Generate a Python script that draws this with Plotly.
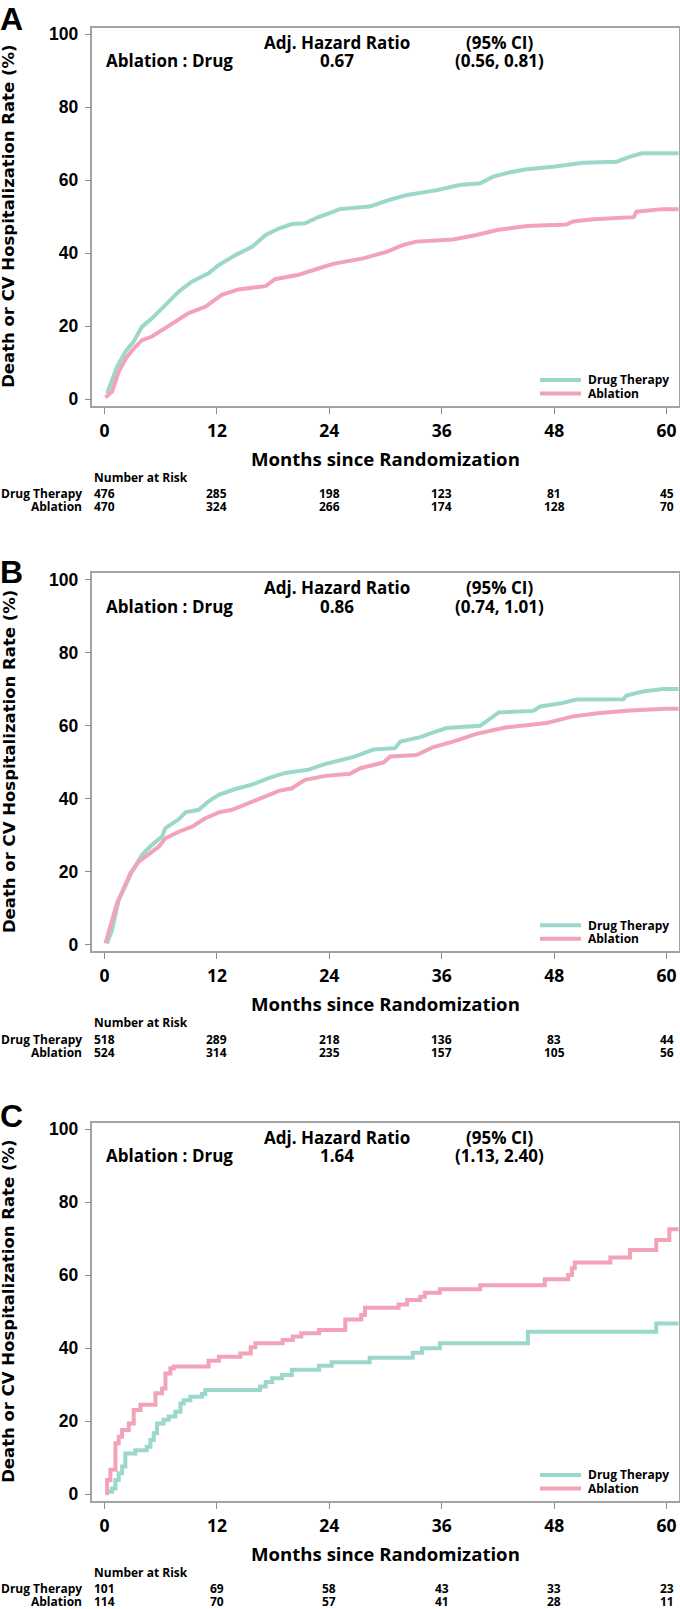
import plotly.graph_objects as go

W, H = 680, 1609

tick_months = [0, 12, 24, 36, 48, 60]
y_ticks = [0, 20, 40, 60, 80, 100]
group_names = ["Drug Therapy", "Ablation"]
panel_letters = ["A", "B", "C"]

# panel A
a_drug_month = [0.27, 1.33, 2.22, 3.1, 4.0, 5.07, 6.14, 7.92, 9.3, 11.1, 12.2, 13.97, 15.75, 17.2,
                18.6, 20.0, 21.4, 22.9, 24.1, 25.1, 28.3, 30.1, 32.3, 35.5, 37.9, 40.1, 41.5, 43.3,
                45.1, 47.9, 51.1, 54.7, 56.1, 57.4, 61.3]
a_drug_rate = [1.6, 8.9, 13.0, 15.8, 19.9, 22.2, 24.9, 29.5, 32.2, 34.5, 36.8, 39.5, 41.8, 45.0,
               46.8, 48.0, 48.2, 50.0, 51.1, 52.1, 52.8, 54.4, 56.0, 57.3, 58.7, 59.2, 61.0, 62.2,
               63.0, 63.7, 64.8, 65.1, 66.5, 67.4, 67.4]
a_abl_month = [0.09, 0.8, 1.51, 2.4, 3.29, 4.0, 5.07, 6.14, 7.56, 8.99, 10.8, 12.5, 14.3, 17.2,
               18.2, 20.7, 22.9, 24.4, 27.6, 30.1, 31.9, 33.3, 37.2, 39.7, 41.9, 45.1, 49.3, 50.0,
               52.2, 56.5, 56.8, 59.5, 61.3]
a_abl_rate = [0.5, 2.1, 7.6, 11.7, 14.4, 16.2, 17.2, 19.0, 21.3, 23.6, 25.4, 28.6, 30.1, 31.0,
              32.9, 34.1, 35.9, 37.1, 38.6, 40.4, 42.3, 43.2, 43.8, 45.0, 46.4, 47.5, 47.9, 48.7,
              49.3, 49.9, 51.4, 52.1, 52.1]
a_risk_drug = [476, 285, 198, 123, 81, 45]
a_risk_abl = [470, 324, 266, 174, 128, 70]
a_hr = "0.67"
a_ci = "(0.56, 0.81)"

# panel B
b_drug_month = [0.27, 0.8, 1.51, 2.22, 2.94, 4.0, 5.07, 6.14, 6.5, 7.92, 8.63, 10.05, 11.1, 12.2,
                13.97, 15.75, 17.5, 19.3, 21.8, 23.6, 26.6, 28.7, 31.0, 31.6, 33.7, 35.1, 36.5,
                40.1, 41.2, 42.1, 45.8, 46.5, 48.6, 50.4, 55.4, 55.7, 57.5, 59.6, 61.3]
b_drug_rate = [0.3, 4.0, 12.2, 16.3, 20.0, 24.6, 27.3, 29.6, 31.9, 34.3, 36.2, 36.9, 39.2, 41.0,
               42.6, 43.8, 45.6, 47.0, 47.9, 49.5, 51.4, 53.4, 53.8, 55.6, 56.8, 58.1, 59.3,
               59.9, 62.1, 63.6, 64.0, 65.2, 66.0, 67.1, 67.2, 68.2, 69.3, 70.0, 70.0]
b_abl_month = [0.09, 0.62, 1.33, 2.05, 2.76, 3.65, 4.7, 5.78, 6.5, 7.92, 9.34, 10.76, 12.2, 13.6,
               15.0, 16.8, 18.6, 20.0, 21.4, 23.6, 26.2, 27.3, 29.8, 30.5, 33.3, 35.1, 37.2, 39.7,
               42.9, 47.2, 50.0, 52.9, 56.1, 60.0, 61.3]
b_abl_rate = [0.3, 4.9, 11.3, 15.4, 19.5, 22.7, 24.6, 26.8, 29.1, 30.9, 32.3, 34.6, 36.2, 36.9,
              38.3, 40.1, 42.1, 42.8, 45.1, 46.2, 46.8, 48.3, 49.9, 51.5, 51.9, 54.1, 55.6, 57.7,
              59.5, 60.7, 62.5, 63.4, 64.1, 64.6, 64.6]
b_risk_drug = [518, 289, 218, 136, 83, 44]
b_risk_abl = [524, 314, 235, 157, 105, 56]
b_hr = "0.86"
b_ci = "(0.74, 1.01)"

# panel C
c_drug_month = [0.27, 0.8, 1.16, 1.51, 1.87, 2.22, 3.29, 4.5, 4.89, 5.25, 5.6, 6.3, 6.85, 7.56,
                8.1, 8.45, 9.16, 10.4, 10.76, 16.6, 17.2, 17.9, 18.95, 20.0, 22.9, 24.25, 28.3,
                32.9, 33.9, 35.8, 45.2, 58.9, 61.3]
c_drug_rate = [0.7, 1.6, 3.9, 5.8, 7.6, 11.2, 12.1, 13.0, 14.9, 16.7, 19.4, 20.4, 21.3, 22.6,
               24.9, 25.8, 26.7, 27.5, 28.6, 29.5, 30.8, 31.8, 32.7, 34.1, 35.2, 36.2, 37.4,
               38.8, 40.0, 41.4, 44.5, 46.8, 46.8]
c_abl_month = [0.09, 0.27, 0.62, 1.16, 1.51, 1.87, 2.58, 3.11, 3.83, 5.43, 6.14, 6.5, 7.03, 7.4,
               11.1, 12.2, 14.5, 15.6, 16.1, 19.0, 20.1, 21.0, 22.9, 25.7, 27.4, 27.8, 31.4, 32.3,
               33.7, 34.2, 35.8, 40.1, 47.0, 49.5, 49.9, 50.2, 54.0, 56.1, 58.9, 60.3, 61.3]
c_abl_rate = [0.3, 3.9, 6.7, 14.0, 15.8, 17.6, 19.4, 23.1, 24.5, 27.7, 29.0, 33.1, 34.5, 35.0,
              36.6, 37.7, 38.6, 40.3, 41.4, 42.3, 43.2, 44.1, 45.0, 47.9, 49.1, 51.1, 52.0, 53.2,
              54.1, 55.2, 56.2, 57.3, 58.9, 60.1, 61.9, 63.5, 64.9, 66.9, 69.7, 72.6, 72.6]
c_risk_drug = [101, 69, 58, 43, 33, 23]
c_risk_abl = [114, 70, 57, 41, 28, 11]
c_hr = "1.64"
c_ci = "(1.13, 2.40)"

panels = [
    (a_drug_month, a_drug_rate, a_abl_month, a_abl_rate, a_risk_drug, a_risk_abl, a_hr, a_ci, "linear"),
    (b_drug_month, b_drug_rate, b_abl_month, b_abl_rate, b_risk_drug, b_risk_abl, b_hr, b_ci, "linear"),
    (c_drug_month, c_drug_rate, c_abl_month, c_abl_rate, c_risk_drug, c_risk_abl, c_hr, c_ci, "hv"),
]

TEAL = "#9CD7CB"
PINK = "#F2A3B8"
FRAME = "#A3A3A3"
SEG = "Open Sans"
ARIAL = "Liberation Sans, Arial"
DEJA = "DejaVu Sans"

# pixel layout
zero_rows = [399.3, 944.5, 1494.3]
letter_rows = [18.5, 571.7, 1116.0]
unit = 3.65
y_lo, y_hi = -1.84, 101.8
box_left, box_right = 92.4, 678.7


def px(v):
    return v / W


def py(v):
    return 1 - v / H


def note(**kw):
    # plotly's "auto" anchors shift paper-referenced text, so pin them
    kw.setdefault("xanchor", "center")
    kw.setdefault("yanchor", "middle")
    kw.setdefault("showarrow", False)
    return kw


fig = go.Figure()
annotations = []
shapes = []

for i, (dm, dr, am, ar, rd, ra, hr, ci, shape) in enumerate(panels):
    sfx = "" if i == 0 else str(i + 1)
    z = zero_rows[i]
    top = z - y_hi * unit
    bot = z - y_lo * unit

    fig.add_trace(go.Scatter(x=dm, y=dr, mode="lines", line=dict(color=TEAL, width=4, shape=shape),
                             xaxis="x" + sfx, yaxis="y" + sfx, showlegend=False))
    fig.add_trace(go.Scatter(x=am, y=ar, mode="lines", line=dict(color=PINK, width=4, shape=shape),
                             xaxis="x" + sfx, yaxis="y" + sfx, showlegend=False))

    fig.update_layout(**{
        "xaxis" + sfx: dict(
            domain=[px(box_left), px(box_right)], range=[-1.3, 61.3], anchor="y" + sfx,
            tickvals=tick_months, ticks="outside", ticklen=6, tickcolor="#8C8C8C",
            showline=True, linecolor=FRAME, linewidth=1.5, mirror=True, automargin=False,
            showgrid=False, zeroline=False, ticklabelstandoff=2,
            tickfont=dict(family=SEG, size=17.5, color="black", weight="bold"),
        ),
        "yaxis" + sfx: dict(
            domain=[py(bot), py(top)], range=[y_lo, y_hi], anchor="x" + sfx,
            tickvals=y_ticks, ticks="outside", ticklen=6, tickcolor="#8C8C8C",
            showline=True, linecolor=FRAME, linewidth=1.5, mirror=True, automargin=False,
            showgrid=False, zeroline=False, ticklabelstandoff=3,
            tickfont=dict(family=ARIAL, size=17.5, color="black", weight="bold"),
        ),
    })

    xr, yr = "x" + sfx, "y" + sfx
    hr_font = dict(family=SEG, size=17, color="black", weight="bold")
    small = dict(family=SEG, size=12, color="black", weight="bold")

    # hazard ratio box
    annotations += [
        note(x=24.8, y=97.7, xref=xr, yref=yr, text="Adj. Hazard Ratio", font=hr_font),
        note(x=42.2, y=97.7, xref=xr, yref=yr, text="(95% CI)", font=hr_font),
        note(x=6.9, y=92.7, xref=xr, yref=yr, text="Ablation : Drug", font=hr_font),
        note(x=24.8, y=92.7, xref=xr, yref=yr, text=hr, font=hr_font),
        note(x=42.2, y=92.7, xref=xr, yref=yr, text=ci, font=hr_font),
    ]

    # legend
    for name, col, yy in [(group_names[0], TEAL, 5.3), (group_names[1], PINK, 1.6)]:
        shapes.append(dict(type="line", xref="paper", yref=yr, x0=px(540), x1=px(581), y0=yy, y1=yy,
                           line=dict(color=col, width=4)))
        annotations.append(note(x=px(586), y=yy, xref="paper", yref=yr, text=name,
                                xanchor="left", font=small))

    # panel letter and y title
    annotations.append(note(x=px(11), y=py(letter_rows[i]), xref="paper", yref="paper",
                            text=panel_letters[i],
                            font=dict(family=ARIAL, size=32, color="black", weight="bold")))
    annotations.append(note(x=px(9), y=py((top + bot) / 2), xref="paper", yref="paper",
                            text="Death or CV Hospitalization Rate (%)", textangle=-90,
                            font=dict(family=DEJA, size=16.5, color="black", weight="bold")))

    # x title
    annotations.append(note(x=30, y=py(z + 59), xref=xr, yref="paper", text="Months since Randomization",
                            font=dict(family=SEG, size=18.6, color="black", weight="bold")))

    # number at risk
    annotations.append(note(x=px(92), y=py(z + 78), xref="paper", yref="paper", text="Number at Risk",
                            xanchor="left", font=small))
    for name, counts, row in [(group_names[0], rd, z + 94.5), (group_names[1], ra, z + 107.5)]:
        annotations.append(note(x=px(83), y=py(row), xref="paper", yref="paper", text=name,
                                xanchor="right", font=small, borderpad=0))
        for m, n in zip(tick_months, counts):
            annotations.append(note(x=m, y=py(row), xref=xr, yref="paper", text=str(n), font=small,
                                    borderpad=0))

fig.update_layout(
    width=W, height=H,
    margin=dict(l=0, r=0, t=0, b=0),
    paper_bgcolor="white", plot_bgcolor="white",
    annotations=annotations, shapes=shapes,
    showlegend=False,
)

fig.write_html("out.html", config={"displayModeBar": False},
               post_script="document.body.style.margin='0px';")
